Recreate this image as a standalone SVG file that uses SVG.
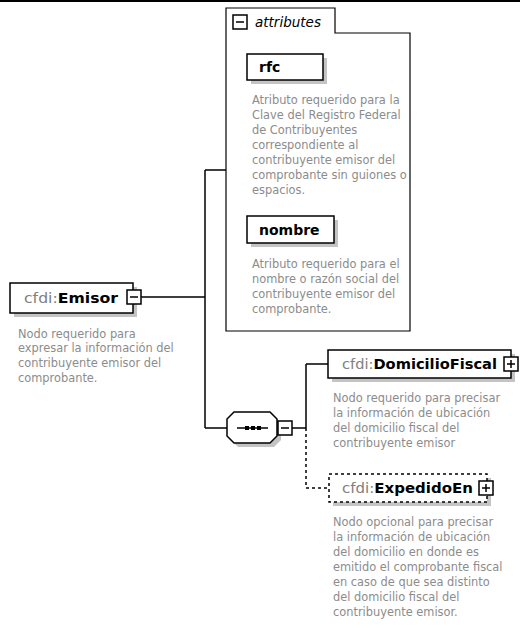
<svg xmlns="http://www.w3.org/2000/svg" width="520" height="629" viewBox="0 0 520 629">
<style>
.box{fill:#fff;stroke:#000;stroke-width:1.5}
.dbox{fill:#fff;stroke:#000;stroke-width:1.5;stroke-dasharray:3,3}
.sh{fill:#c4c4c4}
.ln{fill:none;stroke:#000;stroke-width:1.5}
.dln{fill:none;stroke:#000;stroke-width:1.5;stroke-dasharray:3,3}
.ic{fill:#fff;stroke:#000;stroke-width:1.5}
.lbl{font-family:"DejaVu Sans",Verdana,sans-serif;font-size:14px}
.pre{fill:#808080}
.nm{fill:#000;font-weight:bold}
.desc{font-family:"DejaVu Sans",Verdana,sans-serif;font-size:11.4px;fill:#8c8c8c}
.att{font-family:"DejaVu Sans",Verdana,sans-serif;font-size:14px;font-weight:bold;fill:#000}
</style>
<rect x="0" y="0" width="520" height="2" fill="#000"/>
<g id="connectors">
<path class="ln" d="M141,297 H205 M205,170 V428 M205,170 H226 M205,428 H227 M292,428 H306 M306,364 V428 M306,364 H328"/>
<path class="dln" d="M306,428 V488 H329"/>
</g>
<g id="emisor">
<rect class="sh" x="14" y="287" width="123" height="30"/>
<rect class="box" x="10" y="283" width="123" height="30"/>
<text class="lbl" x="24" y="303" font-size="15" textLength="94" lengthAdjust="spacingAndGlyphs"><tspan class="pre">cfdi:</tspan><tspan class="nm">Emisor</tspan></text>
<rect class="ic" x="127" y="290" width="14" height="14"/>
<path class="ln" d="M130,297 H138"/>
<text class="desc"><tspan x="18" y="338">Nodo requerido para</tspan><tspan x="18" y="352">expresar la información del</tspan><tspan x="18" y="367">contribuyente emisor del</tspan><tspan x="18" y="382">comprobante.</tspan></text>
</g>
<g id="attributes">
<path fill="#fff" stroke="#000" stroke-width="1.2" d="M226,8 H335 V33 H410 V331 H226 Z"/>
<rect class="ic" x="233" y="15" width="14" height="14"/>
<path class="ln" d="M236,22 H244"/>
<text x="255" y="27" font-family="DejaVu Sans,Verdana,sans-serif" font-size="13.5" font-style="italic" fill="#000">attributes</text>
</g>
<g id="rfc">
<rect class="sh" x="251" y="58" width="76" height="26"/>
<rect class="box" x="247" y="54" width="76" height="26"/>
<text class="att" x="259" y="72">rfc</text>
<text class="desc"><tspan x="252" y="104">Atributo requerido para la</tspan><tspan x="252" y="119">Clave del Registro Federal</tspan><tspan x="252" y="134">de Contribuyentes</tspan><tspan x="252" y="149">correspondiente al</tspan><tspan x="252" y="164">contribuyente emisor del</tspan><tspan x="252" y="179">comprobante sin guiones o</tspan><tspan x="252" y="194">espacios.</tspan></text>
</g>
<g id="nombre">
<rect class="sh" x="251" y="220" width="87" height="27"/>
<rect class="box" x="247" y="216" width="87" height="27"/>
<text class="att" x="259" y="235">nombre</text>
<text class="desc"><tspan x="252" y="268">Atributo requerido para el</tspan><tspan x="252" y="283">nombre o razón social del</tspan><tspan x="252" y="298">contribuyente emisor del</tspan><tspan x="252" y="313">comprobante.</tspan></text>
</g>
<g id="sequence">
<path class="sh" d="M238,416 H274 L281,423 V440 L274,447 H238 L231,440 V423 Z"/>
<path class="box" d="M234,412 H270 L277,419 V436 L270,443 H234 L227,436 V419 Z"/>
<path class="ln" d="M237,428 H268"/>
<rect x="245" y="426" width="4" height="4" fill="#000"/>
<rect x="251" y="426" width="4" height="4" fill="#000"/>
<rect x="257" y="426" width="4" height="4" fill="#000"/>
<rect class="ic" x="278" y="421" width="14" height="14"/>
<path class="ln" d="M281,428 H289"/>
</g>
<g id="domicilio">
<rect class="sh" x="332" y="354" width="183" height="28"/>
<rect class="box" x="328" y="350" width="183" height="28"/>
<text class="lbl" x="342" y="369" textLength="155" lengthAdjust="spacingAndGlyphs"><tspan class="pre">cfdi:</tspan><tspan class="nm">DomicilioFiscal</tspan></text>
<rect class="ic" x="504" y="357" width="14" height="14"/>
<path class="ln" d="M507,364 H515 M511,360 V368"/>
<text class="desc"><tspan x="333" y="402">Nodo requerido para precisar</tspan><tspan x="333" y="417">la información de ubicación</tspan><tspan x="333" y="432">del domicilio fiscal del</tspan><tspan x="333" y="447">contribuyente emisor</tspan></text>
</g>
<g id="expedido">
<rect class="sh" x="333" y="478" width="158" height="28"/>
<rect class="dbox" x="329" y="474" width="158" height="28"/>
<text class="lbl" x="342" y="493" font-size="14.5" textLength="131" lengthAdjust="spacingAndGlyphs"><tspan class="pre">cfdi:</tspan><tspan class="nm">ExpedidoEn</tspan></text>
<rect class="ic" x="479" y="481" width="14" height="14"/>
<path class="ln" d="M482,488 H490 M486,484 V492"/>
<text class="desc"><tspan x="333" y="526">Nodo opcional para precisar</tspan><tspan x="333" y="541">la información de ubicación</tspan><tspan x="333" y="556">del domicilio en donde es</tspan><tspan x="333" y="571">emitido el comprobante fiscal</tspan><tspan x="333" y="586">en caso de que sea distinto</tspan><tspan x="333" y="601">del domicilio fiscal del</tspan><tspan x="333" y="616">contribuyente emisor.</tspan></text>
</g>
</svg>
